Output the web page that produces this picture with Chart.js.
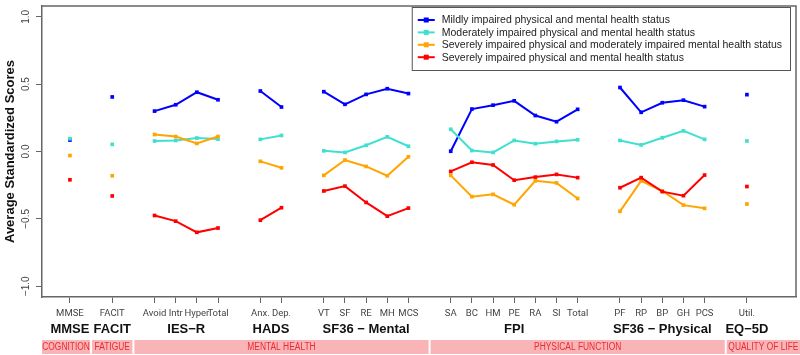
<!DOCTYPE html>
<html>
<head>
<meta charset="utf-8">
<script src="https://cdn.jsdelivr.net/npm/chart.js@4"></script>
<style>
  html, body { margin: 0; padding: 0; background: #fff; }
  #wrap { width: 800px; height: 355px; }
</style>
</head>
<body>
<div id="wrap"><canvas id="c"></canvas></div>
<script>
// instruments (groups) and their sub-scales
const groupNames = ['MMSE', 'FACIT', 'IES\u2212R', 'HADS', 'SF36 \u2212 Mental', 'FPI', 'SF36 \u2212 Physical', 'EQ\u22125D'];
const groupItems = [
  ['MMSE'],
  ['FACIT'],
  ['Avoid', 'Intr', 'Hyper', 'Total'],
  ['Anx.', 'Dep.'],
  ['VT', 'SF', 'RE', 'MH', 'MCS'],
  ['SA', 'BC', 'HM', 'PE', 'RA', 'SI', 'Total'],
  ['PF', 'RP', 'BP', 'GH', 'PCS'],
  ['Util.']
];
// domains and how many instruments each one covers
const domainNames = ['COGNITION', 'FATIGUE', 'MENTAL HEALTH', 'PHYSICAL FUNCTION', 'QUALITY OF LIFE'];
const domainGroupCount = [1, 1, 3, 2, 1];

const seriesLabels = [
  'Mildly impaired physical and mental health status',
  'Moderately impaired physical and mental health status',
  'Severely impaired physical and moderately impaired mental health status',
  'Severely impaired physical and mental health status'
];
const seriesColors = ['#0000ff', '#40e0d0', '#ffa500', '#ff0000'];

// values in the same order as the sub-scales above
const mild = [0.085, 0.405, 0.30, 0.347, 0.44, 0.384, 0.449, 0.33, 0.444, 0.35, 0.424, 0.466, 0.43,
  0.002, 0.315, 0.344, 0.376, 0.267, 0.221, 0.313, 0.475, 0.291, 0.362, 0.381, 0.333, 0.422];
const moderate = [0.095, 0.053, 0.078, 0.082, 0.10, 0.092, 0.09, 0.119, 0.005, -0.007, 0.046, 0.109, 0.039,
  0.165, 0.007, -0.007, 0.082, 0.058, 0.075, 0.087, 0.082, 0.049, 0.102, 0.153, 0.09, 0.078];
const severeModerate = [-0.03, -0.18, 0.126, 0.111, 0.06, 0.111, -0.073, -0.121, -0.177, -0.063, -0.111, -0.18, -0.039,
  -0.177, -0.335, -0.318, -0.395, -0.218, -0.233, -0.349, -0.444, -0.218, -0.293, -0.398, -0.422, -0.39];
const severe = [-0.21, -0.33, -0.475, -0.517, -0.60, -0.568, -0.51, -0.417, -0.293, -0.257, -0.378, -0.48, -0.42,
  -0.148, -0.08, -0.10, -0.213, -0.19, -0.17, -0.194, -0.269, -0.194, -0.298, -0.328, -0.175, -0.26];

const yTicks = [-1, -0.5, 0, 0.5, 1];

// slot positions: one empty slot between instruments
const slotOf = [];      // slot for each sub-scale
const slotLabel = {};   // slot -> tick label
const groupSlots = [];  // slots per group
const gapSlots = [];
let s = 0;
groupItems.forEach((items, g) => {
  if (g > 0) { gapSlots.push(s); s++; }
  const gs = [];
  items.forEach(lab => { slotOf.push(s); slotLabel[s] = lab; gs.push(s); s++; });
  groupSlots.push(gs);
});
const lastSlot = s - 1;

function toPoints(vals) {
  const pts = [];
  let k = 0;
  groupItems.forEach((items, g) => {
    if (g > 0) pts.push({ x: gapSlots[g - 1], y: null });
    items.forEach(() => { pts.push({ x: slotOf[k], y: vals[k] }); k++; });
  });
  return pts;
}

const seriesValues = [mild, moderate, severeModerate, severe];

const FONT_N = "Roboto, 'Liberation Sans', Arial, sans-serif";
const FONT_W = "'Liberation Sans', Arial, sans-serif";

// narrow text helper: squeeze horizontally
function narrowText(ctx, t, cx, cy, k) {
  ctx.save();
  ctx.translate(cx, cy);
  ctx.scale(k, 1);
  ctx.fillText(t, 0, 0);
  ctx.restore();
}

const decor = {
  id: 'decor',
  afterDraw(chart) {
    const ctx = chart.ctx;
    const a = chart.chartArea;
    const x = chart.scales.x;
    ctx.save();
    // box top / right
    ctx.strokeStyle = '#666';
    ctx.lineWidth = 1.5;
    ctx.beginPath();
    ctx.moveTo(a.left, a.top); ctx.lineTo(a.right, a.top); ctx.lineTo(a.right, a.bottom);
    ctx.stroke();

    // instrument names
    ctx.fillStyle = '#111';
    ctx.font = "bold 13px " + FONT_W;
    ctx.textAlign = 'center';
    ctx.textBaseline = 'middle';
    groupNames.forEach((n, g) => {
      const gs = groupSlots[g];
      const cx = (x.getPixelForValue(gs[0]) + x.getPixelForValue(gs[gs.length - 1])) / 2;
      ctx.fillText(n, cx, 329);
    });

    // domain bands
    let g0 = 0;
    domainNames.forEach((d, i) => {
      const g1 = g0 + domainGroupCount[i] - 1;
      const left = g0 === 0 ? a.left : x.getPixelForValue(gapSlots[g0 - 1]) + 1;
      const right = g1 === groupNames.length - 1 ? chart.width : x.getPixelForValue(gapSlots[g1]) - 1;
      ctx.fillStyle = '#f8b4b7';
      ctx.fillRect(left, 340, right - left, 14);
      ctx.fillStyle = '#ee2a2e';
      ctx.font = "10px " + FONT_W;
      narrowText(ctx, d, (left + right) / 2, 347.5, 0.84);
      g0 = g1 + 1;
    });

    // legend
    ctx.font = "10.5px " + FONT_W;
    const tw = Math.max(...seriesLabels.map(t => ctx.measureText(t).width));
    const bw = tw + 38;
    const bx = a.right - 6 - bw, by = 7, bh = 63;
    ctx.fillStyle = '#fff';
    ctx.fillRect(bx, by, bw, bh);
    ctx.strokeStyle = '#555';
    ctx.lineWidth = 1;
    ctx.strokeRect(bx + 0.5, by + 0.5, bw, bh);
    ctx.textAlign = 'left';
    seriesLabels.forEach((t, i) => {
      const ly = by + 13 + i * 12.4;
      ctx.strokeStyle = seriesColors[i];
      ctx.lineWidth = 2;
      ctx.beginPath(); ctx.moveTo(bx + 6, ly); ctx.lineTo(bx + 23, ly); ctx.stroke();
      ctx.fillStyle = seriesColors[i];
      ctx.fillRect(bx + 12, ly - 2.5, 5, 5);
      ctx.fillStyle = '#222';
      ctx.fillText(t, bx + 30, ly + 0.5);
    });
    ctx.restore();
  }
};

new Chart(document.getElementById('c'), {
  type: 'line',
  data: {
    datasets: seriesValues.map((vals, i) => ({
      label: seriesLabels[i],
      data: toPoints(vals),
      borderColor: seriesColors[i],
      backgroundColor: seriesColors[i],
      borderWidth: 2,
      pointStyle: 'rect',
      pointRadius: 2.6,
      pointBorderWidth: 0,
      spanGaps: false,
      order: 3 - i
    }))
  },
  options: {
    responsive: true,
    maintainAspectRatio: false,
    animation: false,
    layout: { padding: { top: 1, right: 2, left: 0, bottom: 0 } },
    plugins: { legend: { display: false }, tooltip: { enabled: false } },
    scales: {
      x: {
        type: 'linear',
        min: -1.32,
        max: lastSlot + 2.32,
        afterBuildTicks: sc => { sc.ticks = slotOf.map(v => ({ value: v })); },
        afterFit: sc => { sc.height = 58; },
        ticks: {
          autoSkip: false, maxRotation: 0, minRotation: 0,
          padding: 5,
          color: '#444',
          font: { family: FONT_N, size: 9.5 },
          callback: v => slotLabel[v] || ''
        },
        grid: { drawOnChartArea: false, tickLength: 6, tickColor: '#666', tickWidth: 1 },
        border: { display: true, color: '#666', width: 1.5 }
      },
      y: {
        min: -1.08,
        max: 1.08,
        afterBuildTicks: sc => { sc.ticks = yTicks.map(v => ({ value: v })); },
        afterFit: sc => { sc.width = 42; },
        ticks: {
          minRotation: 90, maxRotation: 90,
          crossAlign: 'center',
          padding: 0,
          color: '#444',
          font: { family: FONT_W, size: 10 },
          callback: v => (v < 0 ? '\u2212' : '') + Math.abs(v).toFixed(1)
        },
        grid: { drawOnChartArea: false, tickLength: 6, tickColor: '#666' },
        border: { display: true, color: '#666', width: 1.5 },
        title: {
          display: true,
          text: 'Average Standardized Scores',
          color: '#111',
          font: { family: FONT_W, size: 13, weight: 'bold' },
          padding: { top: 3, bottom: 0 }
        }
      }
    }
  },
  plugins: [decor]
});
</script>
</body>
</html>
